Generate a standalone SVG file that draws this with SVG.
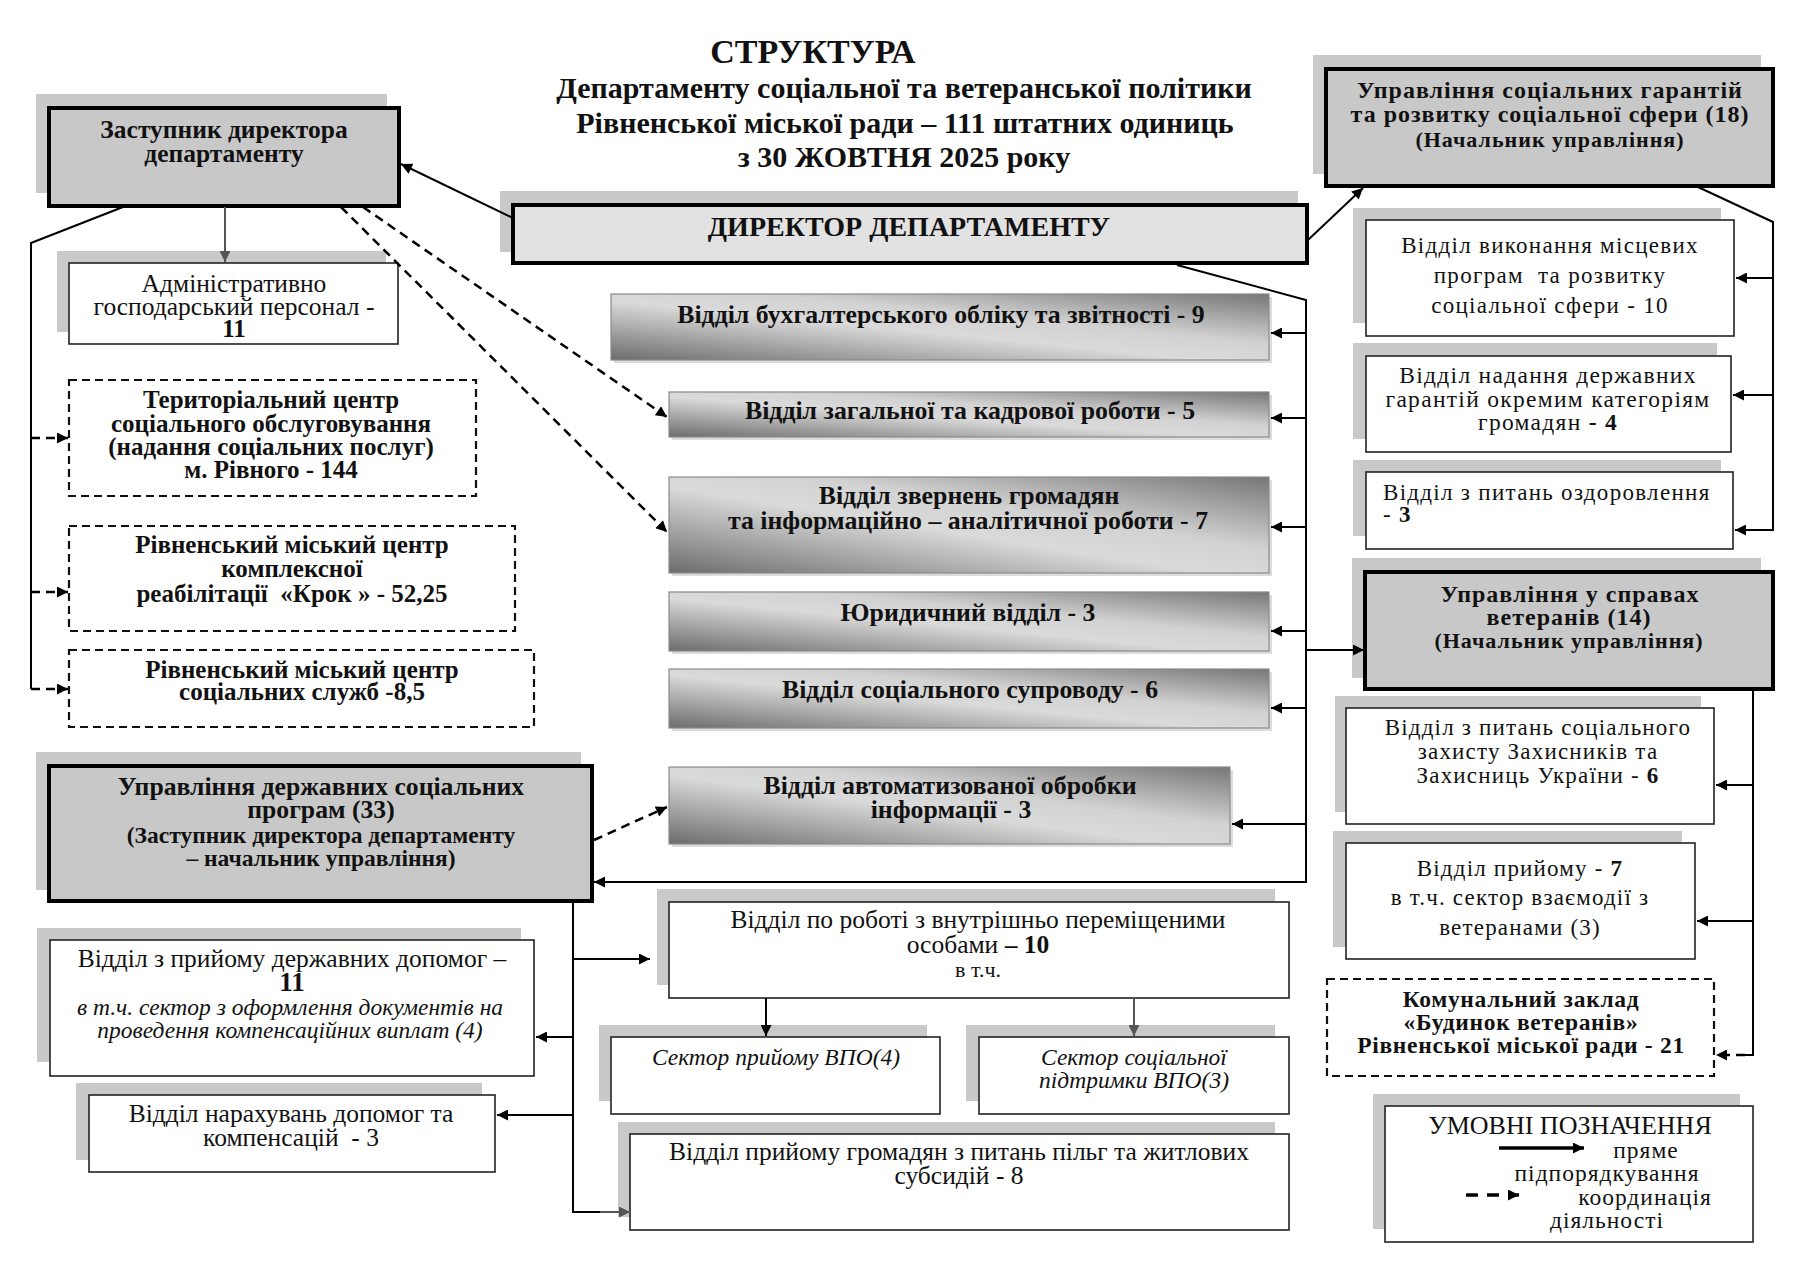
<svg xmlns="http://www.w3.org/2000/svg" width="1810" height="1280" viewBox="0 0 1810 1280">
<style>
.sh{fill:#c9c9c9}
.gsh{fill:#dcdcdc}
.thick{fill:#c8c8c8;stroke:#000;stroke-width:4}
.dir{fill:#e2e2e2;stroke:#000;stroke-width:4}
.thin{fill:#fff;stroke:#222;stroke-width:1.6}
.dbox{fill:#fff;stroke:#111;stroke-width:2.2;stroke-dasharray:8 5}
.grad{fill:url(#gg);stroke:#8a8a8a;stroke-width:1.2}
text{font-family:"Liberation Serif","Times New Roman",serif;fill:#111;text-anchor:middle}
.b{font-weight:bold}
.i{font-style:italic}
.ln{fill:none;stroke:#000;stroke-width:2}
.lg{fill:none;stroke:#555;stroke-width:2}
.dl{fill:none;stroke:#000;stroke-width:2.5;stroke-dasharray:9 6}
</style>
<defs>
<linearGradient id="gg" x1="0" y1="1" x2="1" y2="0">
<stop offset="0" stop-color="#6c6c6c"/>
<stop offset="0.45" stop-color="#dadada"/>
<stop offset="0.62" stop-color="#d2d2d2"/>
<stop offset="1" stop-color="#767676"/>
</linearGradient>
<marker id="a" viewBox="0 0 10 10" refX="10" refY="5" markerWidth="15" markerHeight="11" markerUnits="userSpaceOnUse" orient="auto"><path d="M0,0 L10,5 L0,10 z" fill="#000"/></marker>
<marker id="ag" viewBox="0 0 10 10" refX="10" refY="5" markerWidth="15" markerHeight="11" markerUnits="userSpaceOnUse" orient="auto"><path d="M0,0 L10,5 L0,10 z" fill="#555"/></marker>
</defs>
<rect width="1810" height="1280" fill="#fff"/>

<g id="title" class="b">
<text x="813" y="63" font-size="34">СТРУКТУРА</text>
<text x="904" y="98" font-size="30">Департаменту соціальної та ветеранської політики</text>
<text x="905" y="133" font-size="30">Рівненської міської ради – 111 штатних одиниць</text>
<text x="904" y="167" font-size="30">з 30 ЖОВТНЯ 2025 року</text>
</g>

<g id="director">
<rect class="sh" x="500" y="191" width="798" height="61"/>
<rect class="dir" x="513" y="205" width="794" height="58"/>
<text class="b" x="909" y="236" font-size="28">ДИРЕКТОР ДЕПАРТАМЕНТУ</text>
</g>

<g id="zastupnyk">
<rect class="sh" x="36" y="94" width="351" height="99"/>
<rect class="thick" x="49" y="108" width="350" height="98"/>
<text class="b" x="224" y="138" font-size="25.5">Заступник директора</text>
<text class="b" x="224" y="162" font-size="25.5">департаменту</text>
</g>

<g id="admin">
<rect class="sh" x="57" y="251" width="329" height="81"/>
<rect class="thin" x="69" y="263" width="329" height="81"/>
<text x="234" y="292" font-size="25.5">Адміністративно</text>
<text x="234" y="315" font-size="25.5">господарський персонал -</text>
<text class="b" x="234" y="337" font-size="25">11</text>
</g>

<g id="terr" class="b">
<rect class="dbox" x="69" y="380" width="407" height="116"/>
<text x="271" y="408" font-size="25">Територіальний центр</text>
<text x="271" y="432" font-size="25">соціального обслуговування</text>
<text x="271" y="455" font-size="25">(надання соціальних послуг)</text>
<text x="271" y="478" font-size="25">м. Рівного - 144</text>
</g>

<g id="krok" class="b">
<rect class="dbox" x="69" y="526" width="446" height="105"/>
<text x="292" y="553" font-size="25">Рівненський міський центр</text>
<text x="292" y="577" font-size="25">комплексної</text>
<text x="292" y="602" font-size="25" xml:space="preserve">реабілітації  «Крок » - 52,25</text>
</g>

<g id="sluzhb" class="b">
<rect class="dbox" x="69" y="650" width="465" height="77"/>
<text x="302" y="678" font-size="25">Рівненський міський центр</text>
<text x="302" y="700" font-size="25">соціальних служб -8,5</text>
</g>

<g id="derzh-prog">
<rect class="sh" x="36" y="752" width="545" height="138"/>
<rect class="thick" x="49" y="766" width="543" height="135"/>
<text class="b" x="321" y="795" font-size="25.7">Управління державних соціальних</text>
<text class="b" x="321" y="818" font-size="25.7">програм (33)</text>
<text class="b" x="321" y="843" font-size="23.5">(Заступник директора департаменту</text>
<text class="b" x="321" y="866" font-size="23.5">– начальник управління)</text>
</g>

<g id="dopomog">
<rect class="sh" x="37" y="928" width="484" height="134"/>
<rect class="thin" x="50" y="940" width="484" height="136"/>
<text x="292" y="967" font-size="25.5">Відділ з прийому державних допомог –</text>
<text class="b" x="292" y="991" font-size="27">11</text>
<text class="i" x="290" y="1015" font-size="23.5">в т.ч. сектор з оформлення документів на</text>
<text class="i" x="290" y="1038" font-size="23.5">проведення компенсаційних виплат (4)</text>
</g>

<g id="naraх">
<rect class="sh" x="76" y="1083" width="406" height="77"/>
<rect class="thin" x="89" y="1095" width="406" height="77"/>
<text x="291" y="1122" font-size="25.5">Відділ нарахувань допомог та</text>
<text x="291" y="1146" font-size="25.5" xml:space="preserve">компенсацій  - 3</text>
</g>

<g id="buh">
<rect class="gsh" x="614" y="297" width="658" height="66"/>
<rect class="grad" x="611" y="294" width="658" height="66"/>
<text class="b" x="941" y="323" font-size="25.8">Відділ бухгалтерського обліку та звітності - 9</text>
</g>

<g id="zag">
<rect class="gsh" x="672" y="395" width="600" height="45"/>
<rect class="grad" x="669" y="392" width="600" height="45"/>
<text class="b" x="970" y="419" font-size="25.8">Відділ загальної та кадрової роботи - 5</text>
</g>

<g id="zvern">
<rect class="gsh" x="672" y="480" width="600" height="96"/>
<rect class="grad" x="669" y="477" width="600" height="96"/>
<text class="b" x="969" y="504" font-size="25.8">Відділ звернень громадян</text>
<text class="b" x="968" y="529" font-size="25.8">та інформаційно – аналітичної роботи - 7</text>
</g>

<g id="yur">
<rect class="gsh" x="672" y="595" width="600" height="59"/>
<rect class="grad" x="669" y="592" width="600" height="59"/>
<text class="b" x="968" y="621" font-size="25.8">Юридичний відділ - 3</text>
</g>

<g id="suprov">
<rect class="gsh" x="672" y="672" width="600" height="59"/>
<rect class="grad" x="669" y="669" width="600" height="59"/>
<text class="b" x="970" y="698" font-size="25.8">Відділ соціального супроводу - 6</text>
</g>

<g id="avtomat">
<rect class="gsh" x="672" y="770" width="561" height="77"/>
<rect class="grad" x="669" y="767" width="561" height="77"/>
<text class="b" x="950" y="794" font-size="25.8">Відділ автоматизованої обробки</text>
<text class="b" x="951" y="818" font-size="25.8">інформації - 3</text>
</g>

<g id="vpo">
<rect class="sh" x="657" y="889" width="618" height="96"/>
<rect class="thin" x="669" y="902" width="620" height="96"/>
<text x="978" y="928" font-size="25.5">Відділ по роботі з внутрішньо переміщеними</text>
<text x="978" y="953" font-size="25.5">особами <tspan class="b">– 10</tspan></text>
<text x="978" y="977" font-size="22">в т.ч.</text>
</g>

<g id="sector-pryiom">
<rect class="sh" x="599" y="1025" width="328" height="76"/>
<rect class="thin" x="611" y="1037" width="329" height="77"/>
<text class="i" x="776" y="1065" font-size="23.5">Сектор прийому ВПО(4)</text>
</g>

<g id="sector-pidtr">
<rect class="sh" x="966" y="1025" width="309" height="76"/>
<rect class="thin" x="979" y="1037" width="310" height="77"/>
<text class="i" x="1134" y="1065" font-size="23.5">Сектор соціальної</text>
<text class="i" x="1134" y="1088" font-size="23.5">підтримки ВПО(3)</text>
</g>

<g id="pilg">
<rect class="sh" x="618" y="1122" width="657" height="95"/>
<rect class="thin" x="630" y="1134" width="659" height="96"/>
<text x="959" y="1160" font-size="25.5">Відділ прийому громадян з питань пільг та житлових</text>
<text x="959" y="1184" font-size="25.5">субсидій - 8</text>
</g>

<g id="soc-garant">
<rect class="sh" x="1313" y="55" width="448" height="119"/>
<rect class="thick" x="1326" y="69" width="447" height="117"/>
<text class="b" x="1550" y="98" font-size="24" letter-spacing="1">Управління соціальних гарантій</text>
<text class="b" x="1550" y="122" font-size="24" letter-spacing="1">та розвитку соціальної сфери (18)</text>
<text class="b" x="1550" y="147" font-size="22" letter-spacing="1">(Начальник управління)</text>
</g>

<g id="vykon">
<rect class="sh" x="1353" y="208" width="368" height="115"/>
<rect class="thin" x="1366" y="220" width="368" height="116"/>
<text x="1550" y="253" font-size="23" letter-spacing="1.3">Відділ виконання місцевих</text>
<text x="1550" y="283" font-size="23" letter-spacing="1.3" xml:space="preserve">програм  та розвитку</text>
<text x="1550" y="313" font-size="23" letter-spacing="1.3">соціальної сфери - 10</text>
</g>

<g id="nadannya">
<rect class="sh" x="1353" y="343" width="364" height="96"/>
<rect class="thin" x="1366" y="356" width="365" height="96"/>
<text x="1548" y="383" font-size="23.5" letter-spacing="1.3">Відділ надання державних</text>
<text x="1548" y="407" font-size="23.5" letter-spacing="1.3">гарантій окремим категоріям</text>
<text x="1548" y="430" font-size="23.5" letter-spacing="1.3">громадян <tspan class="b">- 4</tspan></text>
</g>

<g id="ozdorov">
<rect class="sh" x="1353" y="460" width="368" height="76"/>
<rect class="thin" x="1366" y="472" width="367" height="77"/>
<text x="1383" y="500" font-size="23" letter-spacing="1.3" style="text-anchor:start">Відділ з питань оздоровлення</text>
<text x="1383" y="522" font-size="23" letter-spacing="1.3" style="text-anchor:start">- <tspan class="b">3</tspan></text>
</g>

<g id="veteran">
<rect class="sh" x="1352" y="558" width="409" height="120"/>
<rect class="thick" x="1365" y="572" width="408" height="117"/>
<text class="b" x="1570" y="602" font-size="24" letter-spacing="1">Управління у справах</text>
<text class="b" x="1569" y="625" font-size="24" letter-spacing="1">ветеранів (14)</text>
<text class="b" x="1569" y="648" font-size="22" letter-spacing="1">(Начальник управління)</text>
</g>

<g id="zahysn">
<rect class="sh" x="1335" y="696" width="366" height="116"/>
<rect class="thin" x="1346" y="708" width="368" height="116"/>
<text x="1538" y="735" font-size="23" letter-spacing="1.2">Відділ з питань соціального</text>
<text x="1538" y="759" font-size="23" letter-spacing="1.2">захисту Захисників та</text>
<text x="1538" y="783" font-size="23" letter-spacing="1.2">Захисниць України - <tspan class="b">6</tspan></text>
</g>

<g id="pryiom7">
<rect class="sh" x="1333" y="831" width="349" height="116"/>
<rect class="thin" x="1346" y="843" width="349" height="116"/>
<text x="1520" y="876" font-size="23" letter-spacing="1.2">Відділ прийому - <tspan class="b">7</tspan></text>
<text x="1520" y="905" font-size="23" letter-spacing="1.2">в т.ч. сектор взаємодії з</text>
<text x="1520" y="935" font-size="23" letter-spacing="1.2">ветеранами (3)</text>
</g>

<g id="komunal" class="b">
<rect class="dbox" x="1327" y="979" width="387" height="97"/>
<text x="1521" y="1007" font-size="23.5" letter-spacing="0.7">Комунальний заклад</text>
<text x="1521" y="1030" font-size="23.5" letter-spacing="0.7">«Будинок ветеранів»</text>
<text x="1521" y="1053" font-size="23.5" letter-spacing="0.7">Рівненської міської ради - 21</text>
</g>

<g id="legend">
<rect class="sh" x="1373" y="1094" width="367" height="135"/>
<rect class="thin" x="1385" y="1106" width="368" height="136"/>
<text x="1570" y="1134" font-size="26">УМОВНІ ПОЗНАЧЕННЯ</text>
<line x1="1499" y1="1148" x2="1584" y2="1148" stroke="#000" stroke-width="3.5" marker-end="url(#a)"/>
<text x="1646" y="1158" font-size="23.5" letter-spacing="1">пряме</text>
<text x="1607" y="1181" font-size="23.5" letter-spacing="1">підпорядкування</text>
<line x1="1466" y1="1195" x2="1519" y2="1195" stroke="#000" stroke-width="3.5" stroke-dasharray="12 9" marker-end="url(#a)"/>
<text x="1645" y="1205" font-size="23.5" letter-spacing="1">координація</text>
<text x="1607" y="1228" font-size="23.5" letter-spacing="1">діяльності</text>
</g>

<g id="connectors">
<line class="ln" x1="513" y1="218" x2="401" y2="164" marker-end="url(#a)"/>
<line class="ln" x1="1308" y1="240" x2="1363" y2="188" marker-end="url(#a)"/>
<polyline class="ln" points="1177,265 1306,300 1306,882 594,882" marker-end="url(#a)"/>
<line class="ln" x1="1306" y1="333" x2="1271" y2="333" marker-end="url(#a)"/>
<line class="ln" x1="1306" y1="418" x2="1271" y2="418" marker-end="url(#a)"/>
<line class="ln" x1="1306" y1="527" x2="1271" y2="527" marker-end="url(#a)"/>
<line class="ln" x1="1306" y1="631" x2="1271" y2="631" marker-end="url(#a)"/>
<line class="ln" x1="1306" y1="708" x2="1271" y2="708" marker-end="url(#a)"/>
<line class="ln" x1="1306" y1="824" x2="1232" y2="824" marker-end="url(#a)"/>
<line class="ln" x1="1306" y1="650" x2="1364" y2="650" marker-end="url(#a)"/>
<polyline class="ln" points="123,207 31,243 31,689"/>
<line class="dl" x1="31" y1="438" x2="68" y2="438" marker-end="url(#a)"/>
<line class="dl" x1="31" y1="592" x2="68" y2="592" marker-end="url(#a)"/>
<line class="dl" x1="31" y1="689" x2="68" y2="689" marker-end="url(#a)"/>
<line class="lg" x1="225" y1="207" x2="225" y2="262" marker-end="url(#ag)"/>
<line class="dl" x1="363" y1="207" x2="667" y2="417" marker-end="url(#a)"/>
<line class="dl" x1="341" y1="207" x2="667" y2="532" marker-end="url(#a)"/>
<line class="dl" x1="594" y1="840" x2="667" y2="807" marker-end="url(#a)"/>
<polyline class="ln" points="1698,187 1773,222 1773,530 1735,530" marker-end="url(#a)"/>
<line class="ln" x1="1773" y1="278" x2="1736" y2="278" marker-end="url(#a)"/>
<line class="ln" x1="1773" y1="395" x2="1733" y2="395" marker-end="url(#a)"/>
<polyline class="ln" points="1753,689 1753,1055 1745,1055"/>
<line class="ln" x1="1753" y1="785" x2="1716" y2="785" marker-end="url(#a)"/>
<line class="ln" x1="1753" y1="921" x2="1697" y2="921" marker-end="url(#a)"/>
<line class="dl" x1="1745" y1="1055" x2="1716" y2="1055" marker-end="url(#a)"/>
<polyline class="ln" points="573,901 573,1212 600,1212"/>
<line class="lg" x1="600" y1="1212" x2="630" y2="1212" marker-end="url(#ag)"/>
<line class="ln" x1="573" y1="959" x2="650" y2="959" marker-end="url(#a)"/>
<line class="ln" x1="573" y1="1037" x2="536" y2="1037" marker-end="url(#a)"/>
<line class="ln" x1="573" y1="1115" x2="497" y2="1115" marker-end="url(#a)"/>
<line class="ln" x1="766" y1="998" x2="766" y2="1036" marker-end="url(#a)"/>
<line class="lg" x1="1134" y1="998" x2="1134" y2="1036" marker-end="url(#ag)"/>
</g>
</svg>
